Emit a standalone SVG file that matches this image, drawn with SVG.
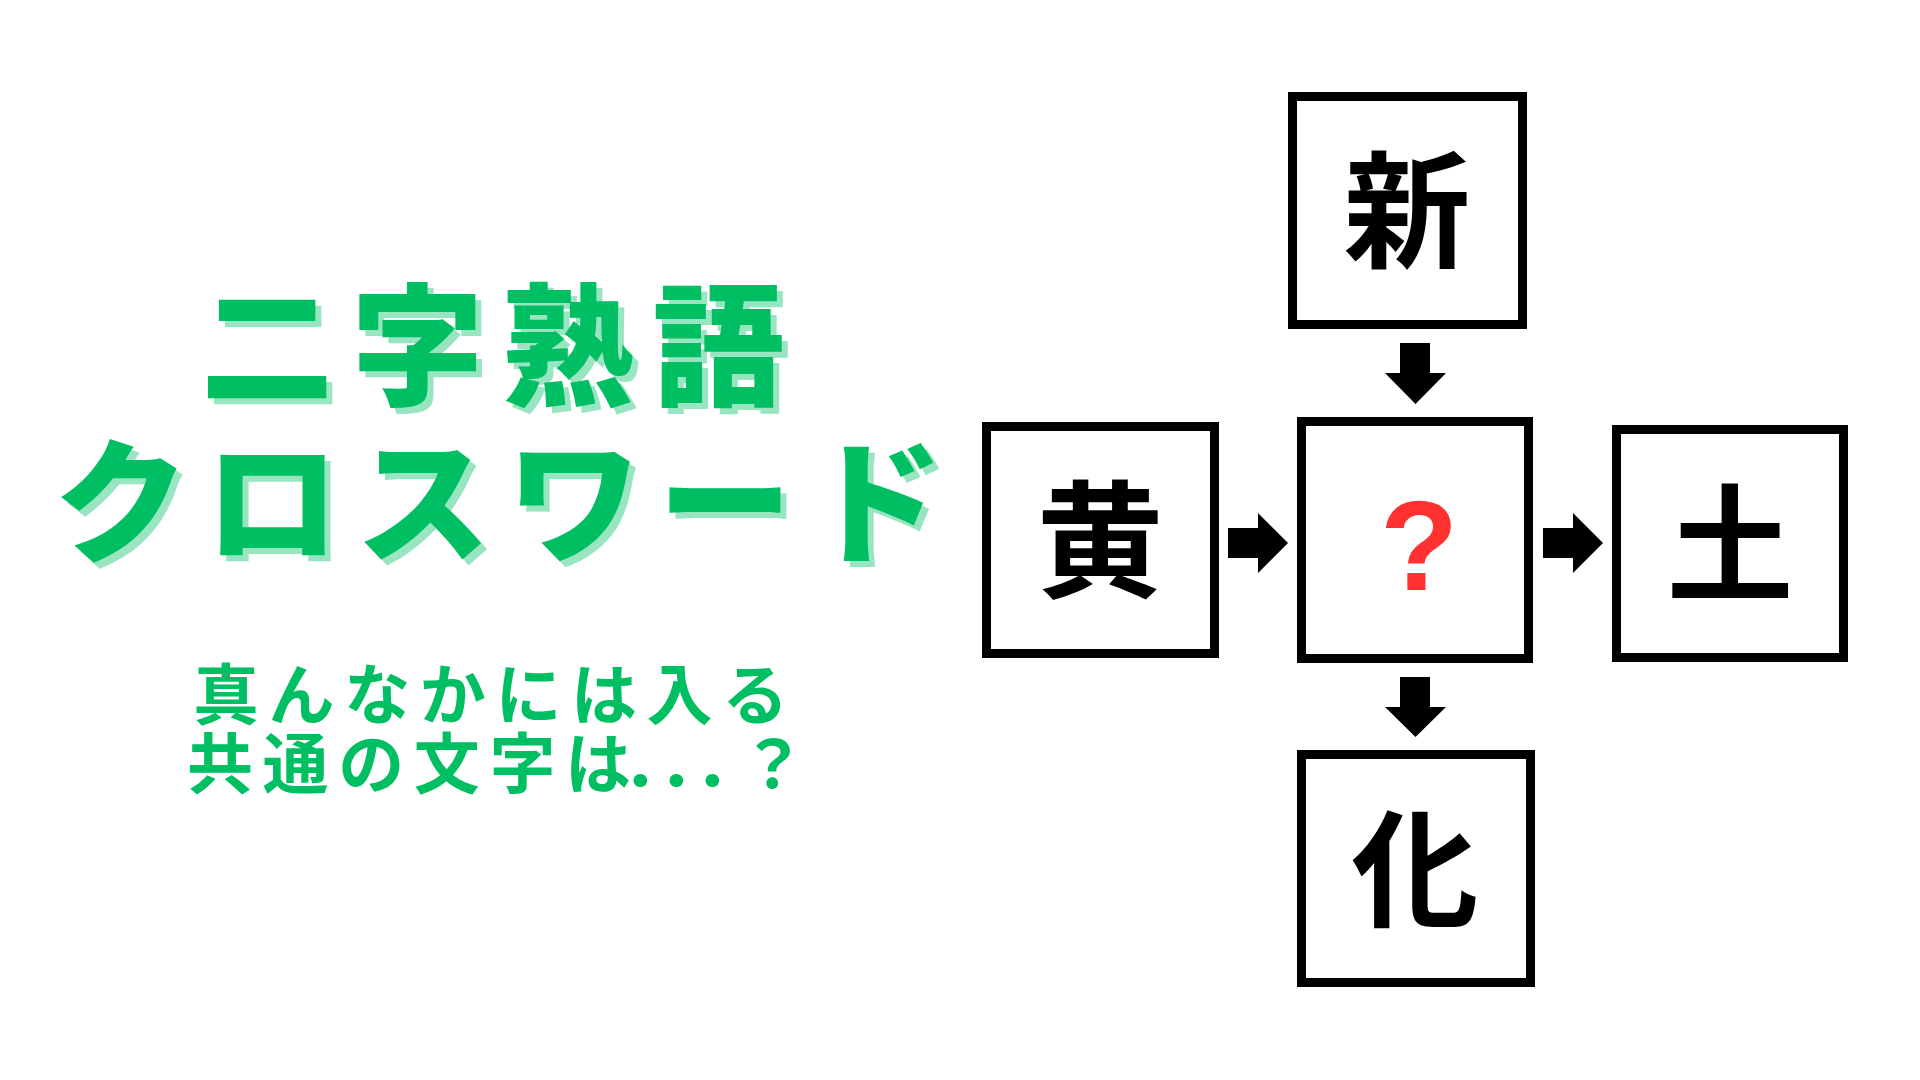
<svg xmlns="http://www.w3.org/2000/svg" xmlns:xlink="http://www.w3.org/1999/xlink" width="1920" height="1080" viewBox="0 0 1920 1080">
<style>
.title{font-family:"Noto Sans CJK JP","Noto Sans CJK SC",sans-serif;font-weight:900}
.main{fill:#00bf63}
.shadow{fill:#99e5c1}
.sub{font-family:"Noto Sans CJK JP","Noto Sans CJK SC",sans-serif;font-weight:700;font-size:66px;fill:#00bf63;letter-spacing:9.6px}
.box{fill:#ffffff;stroke:#000000;stroke-width:9}
.kanji{font-family:"Noto Sans CJK JP","Noto Sans CJK SC",sans-serif;font-weight:700;font-size:127px;fill:#000000;text-anchor:middle}
.q{font-family:"Liberation Sans","Noto Sans",sans-serif;font-weight:700;font-size:128px;fill:#ff3131;text-anchor:middle}
.arrow{fill:#000000}
</style>
<defs>
<text id="t1" class="title" x="201" y="395" font-size="132" letter-spacing="18.5">二字熟語</text>
<text id="t2" class="title" x="54" y="552" font-size="134" letter-spacing="17">クロスワード</text>
</defs>
<rect width="1920" height="1080" fill="#ffffff"/>
<g id="title">
<use xlink:href="#t1" class="shadow" x="6" y="6"/>
<use xlink:href="#t1" class="main"/>
<use xlink:href="#t2" class="shadow" x="6" y="6"/>
<use xlink:href="#t2" class="main"/>
</g>
<g id="subtitle">
<text class="sub" x="193" y="719">真んなかには入る</text>
<text class="sub" x="187" y="788">共通の文字は<tspan x="622 658 694">．．．</tspan><tspan x="740">？</tspan></text>
</g>
<g id="connectors">
<polygon class="arrow" points="1400,343 1430,343 1430,373 1446,373 1415.5,404 1385,373 1400,373"/>
<polygon class="arrow" points="1228,528 1258,528 1258,513 1288,543 1258,573 1258,558 1228,558"/>
<polygon class="arrow" points="1543,528 1573,528 1573,513 1603,543 1573,573 1573,558 1543,558"/>
<polygon class="arrow" points="1400,677 1430,677 1430,707 1446,707 1415.5,737 1385,707 1400,707"/>
</g>
<g id="node-shin">
<rect class="box" x="1292.5" y="96.5" width="230" height="228"/>
<text class="kanji" x="1407" y="258">新</text>
</g>
<g id="node-ki">
<rect class="box" x="986.5" y="426.5" width="228" height="227"/>
<text class="kanji" x="1100" y="588">黄</text>
</g>
<g id="node-center">
<rect class="box" x="1301.5" y="421.5" width="227" height="237"/>
<text class="q" x="1419" y="590">?</text>
</g>
<g id="node-do">
<rect class="box" x="1616.5" y="429.5" width="227" height="228"/>
<text class="kanji" x="1730" y="592">土</text>
</g>
<g id="node-ka">
<rect class="box" x="1301.5" y="754.5" width="229" height="228"/>
<text class="kanji" x="1415" y="917">化</text>
</g>
</svg>
